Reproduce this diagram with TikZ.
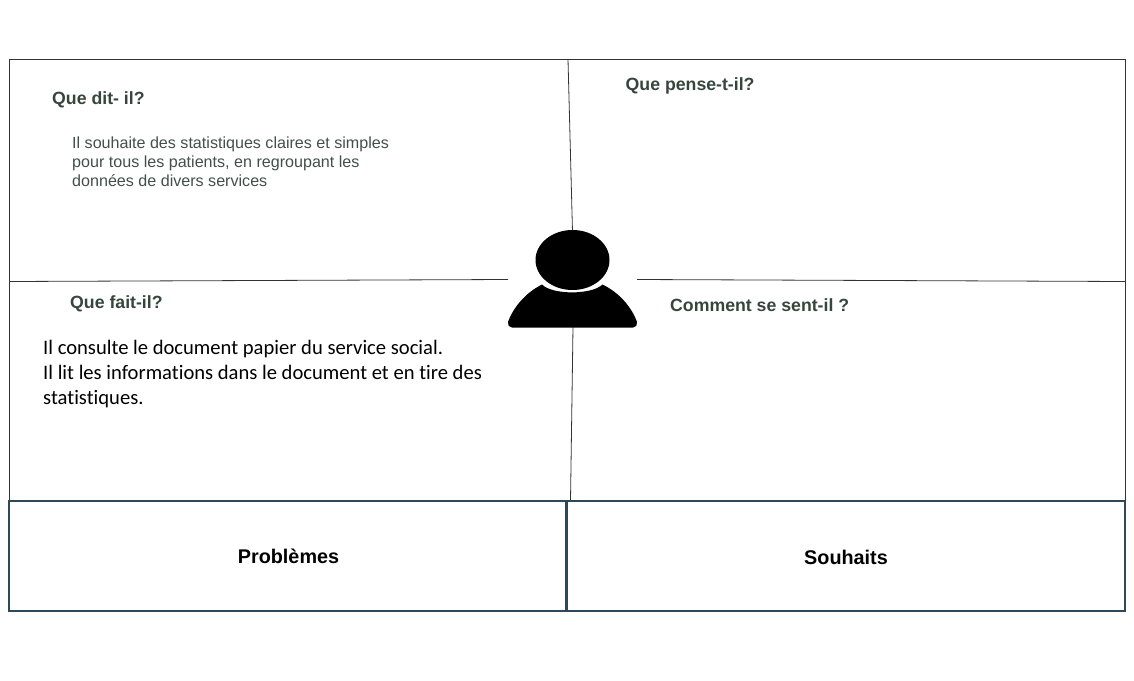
\documentclass[tikz,border=0pt]{standalone}
\usepackage{fontspec}
\setmainfont{Liberation Sans}
\newfontfamily\carlitofont[RawFeature={-liga;-clig}]{Carlito}
\definecolor{headc}{HTML}{36463F}
\definecolor{bodyc}{HTML}{434F4B}
\definecolor{framec}{HTML}{333333}
\definecolor{boxc}{HTML}{2F4858}
\tikzset{
  thinline/.style={draw=framec,line width=0.8pt},
  boxline/.style={draw=boxc,line width=2pt},
  heading/.style={anchor=base west,inner sep=0pt,text=headc,font=\fontsize{17.7}{22}\selectfont\bfseries},
  bodytext/.style={anchor=north west,inner sep=0pt,align=left,text=bodyc,font=\fontsize{16.1}{19}\selectfont},
  calibritext/.style={anchor=north west,inner sep=0pt,align=left,text=black,font=\carlitofont\fontsize{20.6}{25}\selectfont},
  boxlabel/.style={inner sep=0pt,text=black,font=\fontsize{19.8}{24}\selectfont\bfseries},
}
\begin{document}
\begin{tikzpicture}[x=1pt,y=-1pt]
\useasboundingbox (0,0) rectangle (1134,680);
% frame
\coordinate (TL) at (9.5,59.5);
\coordinate (TR) at (1125.5,59.5);
\coordinate (BL) at (9.5,500.5);
\coordinate (BR) at (1125.5,500.5);
\coordinate (vt) at (568,59.5);
\coordinate (vta) at (572.5,232);
\coordinate (vb) at (570.5,500.5);
\coordinate (vba) at (573,327);
\coordinate (hl) at (9.5,281.5);
\coordinate (hla) at (508,279.5);
\coordinate (hr) at (1125.5,281.5);
\coordinate (hra) at (637,279.5);
\draw[thinline] (BL) -- (TL) -- (TR) -- (BR);
\draw[thinline] (vt) -- (vta);
\draw[thinline] (vba) -- (vb);
\draw[thinline] (hl) -- (hla);
\draw[thinline] (hra) -- (hr);
% lower boxes
\node[boxline,minimum width=557.5pt,minimum height=110.5pt,outer sep=0pt,anchor=north west,inner sep=0pt] (prob) at (8.75,500.5) {};
\node[boxline,minimum width=557.5pt,minimum height=110.5pt,outer sep=0pt,anchor=north west,inner sep=0pt] (souh) at (567,500.5) {};
\node[boxlabel] at (288.5,556) {Problèmes};
\node[boxlabel] at (846,557) {Souhaits};
% person
\fill[black] (572.5,260) ellipse (37pt and 30pt);
\fill[black] (542,284.5) .. controls (552,295) and (592,295) .. (602.5,284.5)
  .. controls (620,293) and (632,308) .. (637,322)
  .. controls (637.5,325) and (636,327.5) .. (633,327.5)
  -- (512,327.5) .. controls (509,327.5) and (507.5,325) .. (508,322)
  .. controls (513,308) and (525,293) .. (542,284.5) -- cycle;
% texts
\node[heading] (qd) at (52,104) {Que dit- il?};
\node[heading] (qp) at (625.5,90) {Que pense-t-il?};
\node[heading] (qf) at (70,308) {Que fait-il?};
\node[heading] (cs) at (670,311) {Comment se sent-il ?};
\node[bodytext] (b1) at (72,137) {Il souhaite des statistiques claires et simples\\pour tous les patients, en regroupant les\\données de divers services};
\node[calibritext] (b2) at (43,340) {Il consulte le document papier du service social.\\Il lit les informations dans le document et en tire des\\statistiques.};
\end{tikzpicture}
\end{document}
